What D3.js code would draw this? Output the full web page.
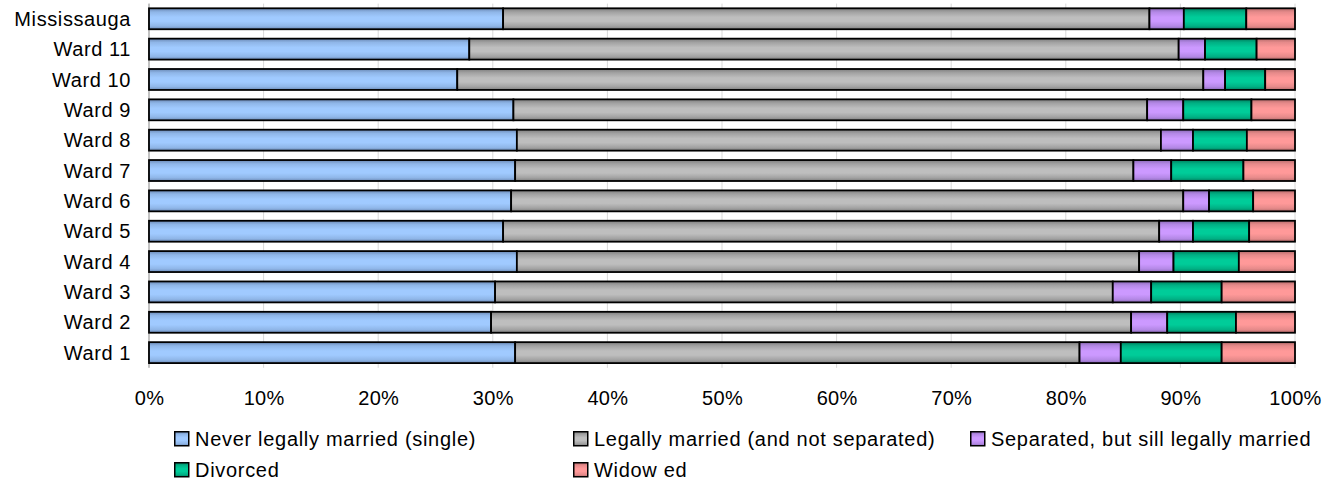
<!DOCTYPE html>
<html>
<head>
<meta charset="utf-8">
<script src="https://cdn.jsdelivr.net/npm/d3@7"></script>
<style>
  html, body { margin: 0; padding: 0; background: #fff; }
  svg { display: block; font-family: "Liberation Sans", Arial, sans-serif; }
</style>
</head>
<body>
<svg id="chart" width="1324" height="482"></svg>
<script>
// ---- data (top to bottom as displayed) ----
const categories = ["Mississauga", "Ward 11", "Ward 10", "Ward 9", "Ward 8", "Ward 7",
                    "Ward 6", "Ward 5", "Ward 4", "Ward 3", "Ward 2", "Ward 1"];
const seriesNames = ["Never legally married (single)", "Legally married (and not separated)",
                     "Separated, but sill legally married", "Divorced", "Widow ed"];
const single    = [30.9, 27.95, 26.9, 31.8, 32.1, 31.95, 31.6, 30.9, 32.1, 30.2, 29.85, 31.95];
const married   = [56.4, 61.9, 65.1, 55.3, 56.2, 53.95, 58.65, 57.25, 54.3, 53.9, 55.85, 49.25];
const separated = [3.0, 2.3, 1.9, 3.15, 2.8, 3.3, 2.25, 2.95, 3.0, 3.35, 3.15, 3.6];
const divorced  = [5.45, 4.5, 3.5, 5.95, 4.7, 6.3, 3.85, 4.9, 5.7, 6.15, 6.0, 8.8];
const widowed   = [4.25, 3.35, 2.6, 3.8, 4.2, 4.5, 3.65, 4.0, 4.9, 6.4, 5.15, 6.4];
const tickValues = [0, 0.1, 0.2, 0.3, 0.4, 0.5, 0.6, 0.7, 0.8, 0.9, 1.0];

// colour ramps: [edge, mid, centre]
const palettes = [
  ["#6A88B4", "#8FB6E8", "#A0CAFF"],
  ["#7E7E7E", "#A2A2A2", "#BEBEBE"],
  ["#8A6AB6", "#B488E6", "#CC99FF"],
  ["#007F5E", "#00B084", "#00CC99"],
  ["#B66C6C", "#E68A8A", "#FF9999"]
];

const seriesValues = [single, married, separated, divorced, widowed];
const keys = d3.range(seriesNames.length);
const rows = categories.map((c, i) => {
  const r = { cat: c };
  keys.forEach(k => r[k] = seriesValues[k][i]);
  return r;
});

const svg = d3.select("#chart");
const plotLeft = 149, plotRight = 1295, plotTop = 3.6, plotBottom = 367.8;

const x = d3.scaleLinear().domain([0, 1]).range([plotLeft, plotRight]);
const y = d3.scaleBand().domain(categories).range([plotTop, plotBottom])
  .paddingInner(0.31).paddingOuter(0.155);

// gradients
const defs = svg.append("defs");
palettes.forEach((p, i) => {
  const g = defs.append("linearGradient").attr("id", "g" + i)
    .attr("x1", 0).attr("y1", 0).attr("x2", 0).attr("y2", 1);
  [[0, p[0]], [0.18, p[1]], [0.42, p[2]], [0.62, p[2]], [0.85, p[1]], [1, p[0]]]
    .forEach(s => g.append("stop").attr("offset", s[0]).attr("stop-color", s[1]));
});

// gridlines
svg.append("g").selectAll("line").data(tickValues).join("line")
  .attr("x1", d => x(d)).attr("x2", d => x(d))
  .attr("y1", plotTop).attr("y2", plotBottom)
  .attr("stroke", "#d9d9d9").attr("stroke-width", 1);

// category axis line
svg.append("line").attr("x1", plotLeft).attr("x2", plotLeft).attr("y1", plotTop).attr("y2", plotBottom)
  .attr("stroke", "#999").attr("stroke-width", 1);

// stacked bars
const stack = d3.stack().keys(keys).offset(d3.stackOffsetExpand);
const stacked = stack(rows);
svg.append("g").selectAll("g").data(stacked).join("g")
  .attr("fill", d => "url(#g" + d.key + ")")
  .selectAll("rect").data(d => d).join("rect")
  .attr("x", d => x(d[0]))
  .attr("y", d => y(d.data.cat))
  .attr("width", d => x(d[1]) - x(d[0]))
  .attr("height", y.bandwidth())
  .attr("stroke", "#000").attr("stroke-width", 1.8);

// category labels
svg.append("g").selectAll("text").data(categories).join("text")
  .attr("x", plotLeft - 18)
  .attr("y", d => y(d) + y.bandwidth() / 2)
  .attr("dy", "0.36em")
  .attr("text-anchor", "end")
  .attr("font-size", 20)
  .attr("letter-spacing", "0.6px")
  .attr("fill", "#000")
  .text(d => d);

// value axis
const xAxis = d3.axisBottom(x).tickValues(tickValues).tickFormat(d3.format(".0%"))
  .tickSize(0).tickPadding(23);
const ax = svg.append("g").attr("transform", `translate(0,${plotBottom})`).call(xAxis);
ax.select(".domain").remove();
ax.selectAll("text").attr("font-size", 20).attr("font-family", "Liberation Sans, Arial, sans-serif")
  .attr("fill", "#000").attr("letter-spacing", "0.3px");

// legend
const legendPos = [[174, 431], [573, 431], [970, 431], [174, 462], [573, 462]];
const lg = svg.append("g").selectAll("g").data(seriesNames).join("g")
  .attr("transform", (d, i) => `translate(${legendPos[i][0]},${legendPos[i][1]})`);
lg.append("rect").attr("x", 0.75).attr("y", 0.75).attr("width", 14).attr("height", 14)
  .attr("fill", (d, i) => "url(#g" + i + ")")
  .attr("stroke", "#000").attr("stroke-width", 1.5);
lg.append("text").attr("x", 21).attr("y", 14.5)
  .attr("font-size", 20).attr("letter-spacing", "0.7px").attr("fill", "#000")
  .text(d => d);
</script>
</body>
</html>
